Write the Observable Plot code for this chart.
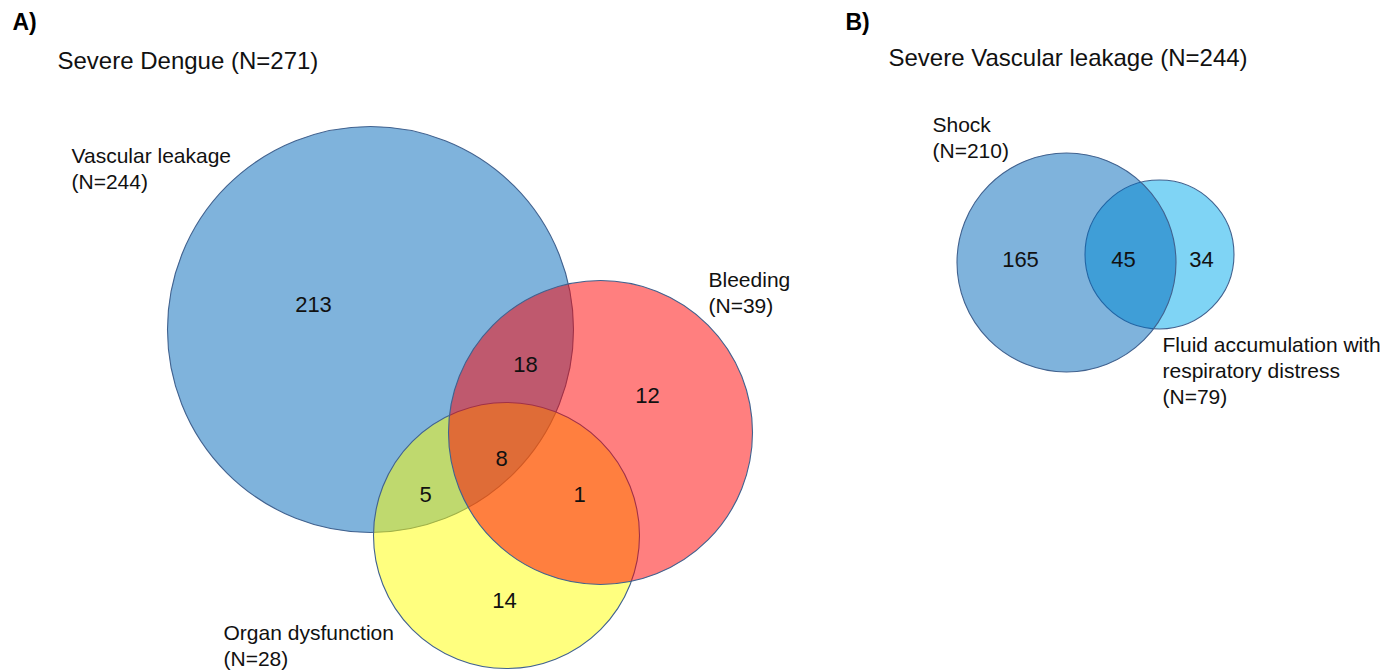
<!DOCTYPE html>
<html>
<head>
<meta charset="utf-8">
<script src="https://cdn.jsdelivr.net/npm/d3@7"></script>
<script src="https://cdn.jsdelivr.net/npm/@observablehq/plot@0.6"></script>
<style>
  html, body { margin: 0; padding: 0; background: #ffffff; }
  #chart { width: 1400px; height: 670px; }
</style>
</head>
<body>
<div id="chart"></div>
<script>
// ---------- DATA ----------
// Panel A: Severe Dengue (N=271)
const panelLabels = ["A)", "B)"];
const panelTitles = ["Severe Dengue (N=271)", "Severe Vascular leakage (N=244)"];

const setsA = ["Vascular leakage", "Organ dysfunction", "Bleeding"];
const setsA_N = [244, 28, 39];
const regionsA = ["Vascular only", "Vascular+Bleeding", "Bleeding only", "All three", "Vascular+Organ", "Bleeding+Organ", "Organ only"];
const countsA = [213, 18, 12, 8, 5, 1, 14];

// Panel B: Severe Vascular leakage (N=244)
const setsB = ["Fluid accumulation with\nrespiratory distress", "Shock"];
const setsB_N = [79, 210];
const regionsB = ["Shock only", "Both", "Fluid only"];
const countsB = [165, 45, 34];

// ---------- LAYOUT (positions / sizes, in px units of the 1400x670 frame) ----------
const circleLayoutA = [ // same order as setsA (drawing order)
  {cx: 370, cy: 329, r: 203},
  {cx: 506, cy: 535, r: 133},
  {cx: 600, cy: 432, r: 152}
];
const circleLayoutB = [ // same order as setsB (drawing order)
  {cx: 1159, cy: 254, r: 74.5},
  {cx: 1066, cy: 262, r: 109.5}
];
const regionPosA = [[313, 311], [525, 371], [647, 402], [501, 465], [425, 501], [579, 501], [504, 607]];
const regionPosB = [[1020, 266], [1123, 266], [1201, 266]];
const setLabelPosA = [[71, 188], [223, 665], [708, 312]]; // last-line baseline
const setLabelPosB = [[1162, 403], [932, 157]];
const panelLabelPos = [[12, 29], [845, 29]];
const panelTitlePos = [[57, 68], [888, 65]];

// ---------- STYLES ----------
const colorsA = ["#0067b9", "#ffff00", "#ff0000"];
const colorsB = ["#00a9eb", "#0067b9"];
const outline = "#41628f";
const font = "'Liberation Sans', Arial, Helvetica, sans-serif";

// ---------- build tables ----------
const circles = [
  ...setsA.map((s, i) => ({set: s, ...circleLayoutA[i], color: colorsA[i]})),
  ...setsB.map((s, i) => ({set: s, ...circleLayoutB[i], color: colorsB[i]}))
];
const regionTexts = [
  ...regionsA.map((g, i) => ({region: g, n: countsA[i], x: regionPosA[i][0], y: regionPosA[i][1]})),
  ...regionsB.map((g, i) => ({region: g, n: countsB[i], x: regionPosB[i][0], y: regionPosB[i][1]}))
];
const setTexts = [
  ...setsA.map((s, i) => ({label: `${s}\n(N=${setsA_N[i]})`, x: setLabelPosA[i][0], y: setLabelPosA[i][1]})),
  ...setsB.map((s, i) => ({label: `${s}\n(N=${setsB_N[i]})`, x: setLabelPosB[i][0], y: setLabelPosB[i][1]}))
];
const panelTexts = panelLabels.map((p, i) => ({label: p, x: panelLabelPos[i][0], y: panelLabelPos[i][1]}));
const titleTexts = panelTitles.map((t, i) => ({label: t, x: panelTitlePos[i][0], y: panelTitlePos[i][1]}));

const chart = Plot.plot({
  width: 1400,
  height: 670,
  margin: 0,
  x: {domain: [0, 1400], range: [0, 1400], axis: null},
  y: {domain: [0, 670], range: [0, 670], axis: null},
  r: {type: "identity"},
  color: {type: "identity"},
  style: {fontFamily: font, background: "#ffffff", color: "#111"},
  marks: [
    Plot.dot(circles, {
      x: "cx", y: "cy", r: "r", fill: "color", fillOpacity: 0.5,
      stroke: outline, strokeWidth: 1.1, sort: null
    }),
    Plot.text(regionTexts, {
      x: "x", y: "y", text: d => String(d.n), textAnchor: "middle", lineAnchor: "bottom",
      fontSize: 22, fill: "#111", fontFamily: font
    }),
    Plot.text(setTexts, {
      x: "x", y: "y", text: "label", textAnchor: "start", lineAnchor: "bottom",
      lineHeight: 1.22, fontSize: 21, fill: "#111", fontFamily: font
    }),
    Plot.text(titleTexts, {
      x: "x", y: "y", text: "label", textAnchor: "start", lineAnchor: "bottom",
      fontSize: 24, fill: "#111", fontFamily: font
    }),
    Plot.text(panelTexts, {
      x: "x", y: "y", text: "label", textAnchor: "start", lineAnchor: "bottom",
      fontSize: 23, fontWeight: "bold", fill: "#000", fontFamily: font
    })
  ]
});
document.getElementById("chart").appendChild(chart);
</script>
</body>
</html>
